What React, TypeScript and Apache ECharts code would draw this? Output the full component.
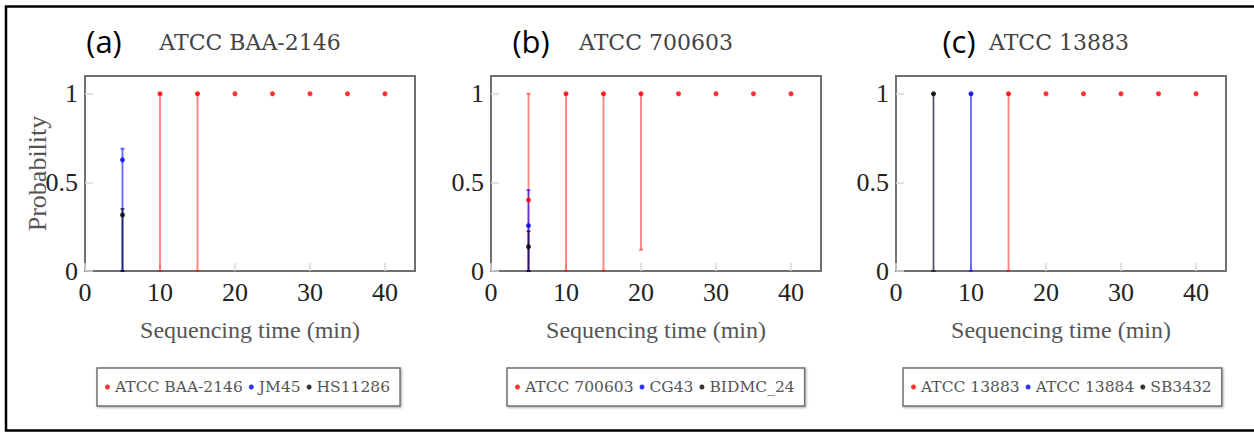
import React, { useEffect, useRef } from "react";
import * as echarts from "echarts";

// ---- data ----
const panelTags = ["(a)", "(b)", "(c)"];
const panelTitles = ["ATCC BAA-2146", "ATCC 700603", "ATCC 13883"];
const seriesNames = [
  ["ATCC BAA-2146", "JM45", "HS11286"],
  ["ATCC 700603", "CG43", "BIDMC_24"],
  ["ATCC 13883", "ATCC 13884", "SB3432"],
];
const xTicks = [0, 10, 20, 30, 40];
const yTicks = [0, 0.5, 1];

// points [time, probability]
const aRed = [[10, 1], [15, 1], [20, 1], [25, 1], [30, 1], [35, 1], [40, 1]];
const aBlue = [[5, 0.627]];
const aBlack = [[5, 0.316]];
const bRed = [[5, 0.4], [10, 1], [15, 1], [20, 1], [25, 1], [30, 1], [35, 1], [40, 1]];
const bBlue = [[5, 0.256]];
const bBlack = [[5, 0.137]];
const cRed = [[15, 1], [20, 1], [25, 1], [30, 1], [35, 1], [40, 1]];
const cBlue = [[10, 1]];
const cBlack = [[5, 1]];

// error bars [time, low, high]
const aRedErr = [[10, 0, 1], [15, 0, 1]];
const aBlueErr = [[5, 0, 0.69]];
const aBlackErr = [[5, 0, 0.35]];
const bRedErr = [[5, 0, 1], [10, 0, 1], [15, 0, 1], [20, 0.12, 1]];
const bBlueErr = [[5, 0, 0.457]];
const bBlackErr = [[5, 0, 0.225]];
const cRedErr = [[15, 0, 1]];
const cBlueErr = [[10, 0, 1]];
const cBlackErr = [[5, 0, 1]];

const points = [
  [aRed, aBlue, aBlack],
  [bRed, bBlue, bBlack],
  [cRed, cBlue, cBlack],
];
const errors = [
  [aRedErr, aBlueErr, aBlackErr],
  [bRedErr, bBlueErr, bBlackErr],
  [cRedErr, cBlueErr, cBlackErr],
];

const pointColors = ["#ff0000", "#0000ff", "#000000"];
const barColors = ["rgba(255,0,0,0.5)", "rgba(0,0,255,0.6)", "rgba(0,0,40,0.65)"];

const gridLefts = [85, 491, 896];
const tagX = [104, 531, 959];
const titleX = [250, 656, 1059];
const legendLefts = [97, 507, 903];

export default function App() {
  const ref = useRef<HTMLDivElement>(null);
  useEffect(() => {
    document.body.style.margin = "0";
    const chart = echarts.init(ref.current!, undefined, { renderer: "svg" });
    const serif = "'Liberation Serif', serif";

    const grids = gridLefts.map((l) => ({
      left: l,
      top: 76,
      width: 330,
      height: 195,
      show: true,
      borderColor: "#707070",
      borderWidth: 2,
      backgroundColor: "transparent",
    }));

    const xAxes = gridLefts.map((_, i) => ({
      type: "value",
      gridIndex: i,
      min: 0,
      max: 44,
      interval: 10,
      name: "Sequencing time (min)",
      nameLocation: "middle",
      nameGap: 47,
      nameTextStyle: { fontFamily: serif, fontSize: 24, color: "#555" },
      axisLine: { show: false },
      splitLine: { show: false },
      axisTick: { show: true, inside: true, length: 8, lineStyle: { color: "#d8d8d8", width: 1.5 } },
      axisLabel: {
        showMaxLabel: false,
        margin: 8,
        fontFamily: serif,
        fontSize: 26,
        color: "#222",
        formatter: (v: number) => (xTicks.indexOf(v) >= 0 ? String(v) : ""),
      },
    }));

    const yAxes = gridLefts.map((_, i) => ({
      type: "value",
      gridIndex: i,
      min: 0,
      max: 1.1,
      interval: 0.5,
      name: i === 0 ? "Probability" : "",
      nameLocation: "middle",
      nameGap: 35,
      nameMoveOverlap: false,
      nameTextStyle: { fontFamily: serif, fontSize: 26, color: "#555" },
      axisLine: { show: false },
      splitLine: { show: false },
      axisTick: { show: true, inside: true, length: 8, lineStyle: { color: "#d8d8d8", width: 1.5 } },
      axisLabel: {
        showMaxLabel: false,
        margin: 7,
        fontFamily: serif,
        fontSize: 26,
        color: "#222",
        formatter: (v: number) => (yTicks.indexOf(v) >= 0 ? String(v) : ""),
      },
    }));

    const series: any[] = [];
    for (let p = 0; p < 3; p++) {
      for (let s = 0; s < 3; s++) {
        const color = barColors[s];
        series.push({
          type: "custom",
          xAxisIndex: p,
          yAxisIndex: p,
          encode: { x: 0, y: [1, 2] },
          data: errors[p][s],
          silent: true,
          renderItem: (params: any, api: any) => {
            const x = api.value(0);
            const lo = api.coord([x, api.value(1)]);
            const hi = api.coord([x, api.value(2)]);
            const st = { stroke: color, lineWidth: 1.8 };
            return {
              type: "group",
              children: [
                { type: "line", shape: { x1: lo[0], y1: lo[1], x2: hi[0], y2: hi[1] }, style: st },
                { type: "line", shape: { x1: hi[0] - 2, y1: hi[1], x2: hi[0] + 2, y2: hi[1] }, style: st },
                { type: "line", shape: { x1: lo[0] - 2, y1: lo[1], x2: lo[0] + 2, y2: lo[1] }, style: st },
              ],
            };
          },
        });
      }
      for (let s = 0; s < 3; s++) {
        series.push({
          type: "scatter",
          name: seriesNames[p][s],
          xAxisIndex: p,
          yAxisIndex: p,
          data: points[p][s],
          symbol: "circle",
          symbolSize: 5,
          itemStyle: { color: pointColors[s] },
        });
      }
    }

    const legends = legendLefts.map((l, p) => ({
      left: l,
      top: 368,
      orient: "horizontal",
      data: seriesNames[p].map((n, s) => ({ name: n, icon: "circle", itemStyle: { color: pointColors[s] } })),
      itemWidth: 5,
      itemHeight: 5,
      itemGap: 6,
      padding: [11, 10, 11, 8],
      borderColor: "#707070",
      borderWidth: 1.5,
      backgroundColor: "#fff",
      shadowColor: "rgba(0,0,0,0.35)",
      shadowBlur: 2,
      shadowOffsetX: 1,
      shadowOffsetY: 1,
      selectedMode: false,
      textStyle: { fontFamily: "'DejaVu Serif', serif", fontSize: 15.5, color: "#555" },
    }));

    const graphic: any[] = [
      {
        type: "rect",
        shape: { x: 6, y: 6.5, width: 1262, height: 424 },
        style: { fill: "none", stroke: "#000", lineWidth: 2.5 },
        silent: true,
      },
    ];
    for (let p = 0; p < 3; p++) {
      graphic.push({
        type: "text",
        x: tagX[p],
        y: 41,
        style: {
          text: panelTags[p],
          font: "31px 'Open Sans', sans-serif",
          fill: "#000",
          align: "center",
          verticalAlign: "middle",
        },
      });
      graphic.push({
        type: "text",
        x: titleX[p],
        y: 42,
        style: {
          text: panelTitles[p],
          font: "22px 'DejaVu Serif', serif",
          fill: "#444",
          align: "center",
          verticalAlign: "middle",
        },
      });
    }

    chart.setOption({
      animation: false,
      backgroundColor: "#fff",
      grid: grids,
      xAxis: xAxes,
      yAxis: yAxes,
      legend: legends,
      series,
      graphic,
    });
    return () => chart.dispose();
  }, []);
  return <div ref={ref} style={{ width: 1254, height: 432 }} />;
}
